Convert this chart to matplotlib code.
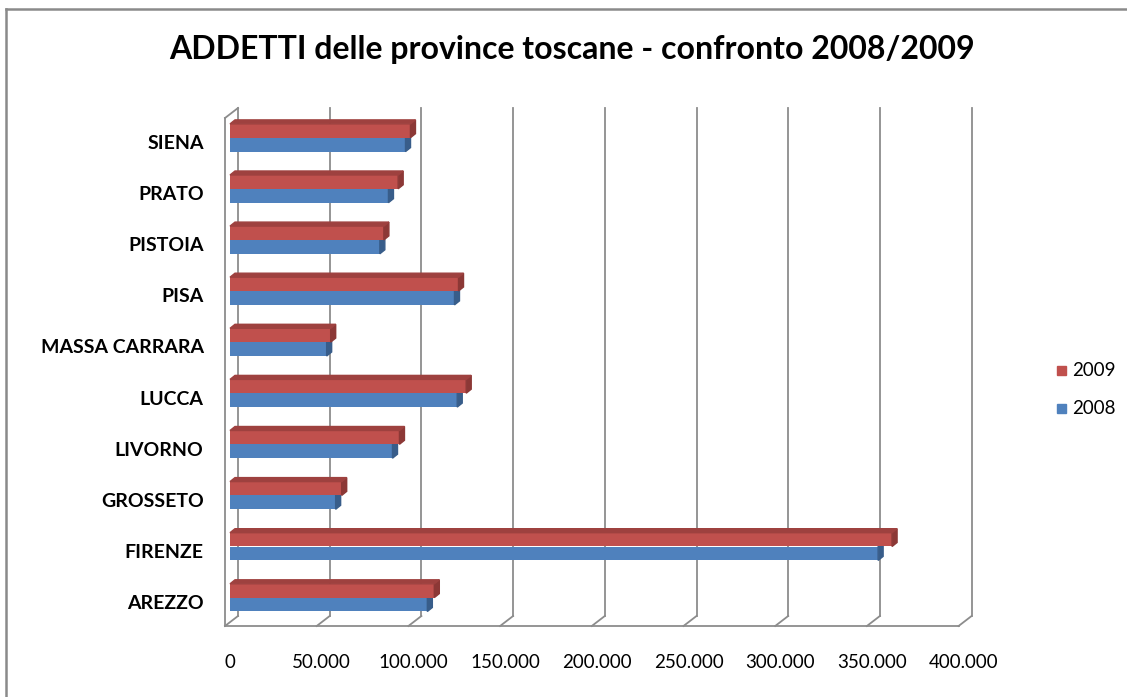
import matplotlib.pyplot as plt
from matplotlib.patches import Polygon
from matplotlib.lines import Line2D

plt.rcParams['font.family'] = ['Lato', 'DejaVu Sans']

# data
province = ['AREZZO', 'FIRENZE', 'GROSSETO', 'LIVORNO', 'LUCCA',
            'MASSA CARRARA', 'PISA', 'PISTOIA', 'PRATO', 'SIENA']
addetti_2008 = [107600, 353400, 57600, 88600, 123900, 52700, 122400, 81700, 86400, 95700]
addetti_2009 = [111400, 361000, 60900, 92400, 128800, 54900, 124600, 83900, 91700, 98400]
x_ticks = [0, 50000, 100000, 150000, 200000, 250000, 300000, 350000, 400000]
x_labels = ['0', '50.000', '100.000', '150.000', '200.000',
            '250.000', '300.000', '350.000', '400.000']

red, red_dark, red_top = '#C0504D', '#8C3836', '#9E413F'
blue, blue_dark = '#4F81BD', '#385D8A'
grid_col = '#8c8c8c'

W, H = 1127, 697
fig = plt.figure(figsize=(W / 100, H / 100), dpi=100)

# axes = plane of the bars (pixel geometry of the original)
x0_px, x1_px = 230, 963.6
ybot_px, ytop_px = 621, 108
ax = fig.add_axes([x0_px / W, 1 - ybot_px / H, (x1_px - x0_px) / W, (ybot_px - ytop_px) / H])
xmax = 400000
ymin, ymax = -0.372, 9.667
ax.set_xlim(0, xmax)
ax.set_ylim(ymin, ymax)
for s in ax.spines.values():
    s.set_visible(False)

# pixel -> data helpers for the fake 3d depth
ux = xmax / (x1_px - x0_px)
uy = (ymax - ymin) / (ybot_px - ytop_px)

back_dx, back_dy = 8 * ux, 5 * uy
front_dx, front_dy = -5 * ux, -5 * uy

# back wall gridlines + floor
for t in x_ticks:
    ax.plot([t + back_dx, t + back_dx], [ymin + back_dy, ymax + back_dy - 5 * uy],
            color=grid_col, lw=1.3, clip_on=False, zorder=1)
    ax.plot([t + back_dx, t + front_dx], [ymin + back_dy, ymin + front_dy],
            color=grid_col, lw=1.3, clip_on=False, zorder=1)
ax.plot([front_dx, xmax + front_dx], [ymin + front_dy, ymin + front_dy],
        color=grid_col, lw=1.3, clip_on=False, zorder=1)
# left wall
ax.plot([front_dx, front_dx], [ymin + front_dy, ymax + front_dy - 5 * uy],
        color=grid_col, lw=1.3, clip_on=False, zorder=1)
ax.plot([front_dx, back_dx], [ymax + front_dy - 5 * uy, ymax + back_dy - 5 * uy],
        color=grid_col, lw=1.3, clip_on=False, zorder=1)

# bars
h = 0.27
bdx, bdy = 5 * ux, 4 * uy


def bar3d(y0, v, face, side, top=None):
    ax.barh(y0, v, height=h, left=0, align='edge', color=face, zorder=3)
    ax.add_patch(Polygon([(v, y0), (v, y0 + h), (v + bdx, y0 + h + bdy), (v + bdx, y0 + bdy)],
                         closed=True, color=side, zorder=3, clip_on=False))
    if top is not None:
        ax.add_patch(Polygon([(0, y0 + h), (v, y0 + h), (v + bdx, y0 + h + bdy), (bdx, y0 + h + bdy)],
                             closed=True, color=top, zorder=3, clip_on=False))


for i in range(len(province)):
    bar3d(i - 0.186, addetti_2008[i], blue, blue_dark)
    bar3d(i + 0.086, addetti_2009[i], red, red_dark, red_top)

ax.set_yticks(range(len(province)))
ax.set_yticklabels(province, fontsize=14, fontweight='bold')
ax.set_xticks(x_ticks)
ax.set_xticklabels(x_labels, fontsize=13.5)
ax.tick_params(axis='y', length=0, pad=19)
ax.tick_params(axis='x', length=0, pad=24)

fig.text(572 / W, 1 - 50 / H, 'ADDETTI delle province toscane - confronto 2008/2009',
         fontsize=23, fontweight='bold', ha='center', va='center')

# legend
fig.patches.append(plt.Rectangle((1057 / W, 1 - 375 / H), 9 / W, 9 / H,
                                 transform=fig.transFigure, color=red))
fig.patches.append(plt.Rectangle((1057 / W, 1 - 413 / H), 9 / W, 9 / H,
                                 transform=fig.transFigure, color=blue))
fig.text(1072 / W, 1 - 370 / H, '2009', fontsize=13.5, va='center', ha='left')
fig.text(1072 / W, 1 - 408 / H, '2008', fontsize=13.5, va='center', ha='left')

# chart frame
fig.add_artist(Line2D([6 / W, 1], [1 - 9 / H, 1 - 9 / H], color='#8a8a8a', lw=1.8))
fig.add_artist(Line2D([6 / W, 6 / W], [0, 1 - 9 / H], color='#8a8a8a', lw=1.8))

fig.savefig('out.png', dpi=100)
